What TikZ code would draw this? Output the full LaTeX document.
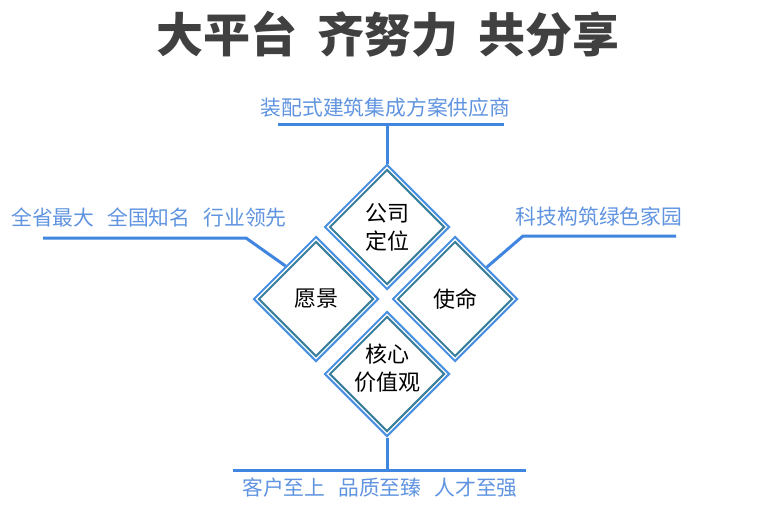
\documentclass[tikz,border=0pt]{standalone}
\usepackage{fontspec}
\newfontfamily\cjk{Noto Sans CJK SC}
\usetikzlibrary{shapes.geometric,calc,positioning}
\definecolor{lineblue}{RGB}{64,134,224}
\definecolor{textblue}{RGB}{96,148,224}
\definecolor{frameblue}{RGB}{74,144,226}
\definecolor{frameteal}{RGB}{58,127,156}
\definecolor{titlegray}{RGB}{64,64,64}

\begin{document}
\begin{tikzpicture}[x=1pt,y=-1pt,
    heading/.style = {font=\cjk\bfseries\fontsize{47}{47}\selectfont, text=titlegray, inner sep=0pt},
    slogan/.style = {font=\cjk\fontsize{20.8}{24}\selectfont, text=textblue, inner sep=0pt},
    quadtext/.style = {align=center, inner sep=0pt, font=\cjk\fontsize{22}{28}\selectfont},
    quad/.style = {quadtext, diamond, draw=frameblue, line width=2pt, minimum width=125pt,
      minimum height=125pt},
    quadin/.style = {diamond, draw=frameteal, line width=2pt, minimum width=115pt,
      minimum height=115pt, inner sep=0pt},
    link/.style = {draw=lineblue, line width=3pt}]
    \useasboundingbox (0,0) rectangle (769,506);
    \node [heading] (title) at (388,34) {大平台\hspace{20pt}齐努力\hspace{20pt}共分享};

    \node [quad] (dw) at (387,227) {公司\\定位};
    \node [quad] (yj) at (316,299) {愿景};
    \node [quad] (sm) at (455,299) {使命};
    \node [quad] (hx) at (387,374) {};
    \node [quadtext] (hx-t) at ([yshift=6pt]hx.center) {核心\\价值观};
    \foreach \q in {dw,yj,sm,hx}
        \node [quadin] (\q-in) at (\q) {};

    \node [slogan] (pos) at (385.5,108) {装配式建筑集成方案供应商};
    \coordinate (posl) at (278,124);
    \coordinate (posr) at (504,124);
    \draw [link] (posl) -- (posr);
    \draw [link] (dw.north) -- (dw.north |- posl);

    \node [slogan] (vis) at (149,217.5) {全省最大\hspace{0.62em}全国知名\hspace{0.62em}行业领先};
    \coordinate (visa) at (43,238);
    \coordinate (visb) at (246,238);
    \draw [link] (visa) -- (visb) -- ($(yj.north)!0.48!(yj.west)$);

    \node [slogan] (mis) at (599,216.5) {科技构筑绿色家园};
    \coordinate (misa) at (676,236);
    \coordinate (misb) at (523,236);
    \draw [link] (misa) -- (misb) -- ($(sm.north)!0.5!(sm.east)$);

    \coordinate (vall) at (233,470);
    \coordinate (valr) at (526,470);
    \draw [link] (vall) -- (valr);
    \draw [link] (hx.south) -- (hx.south |- vall);
    \node [slogan] (val) at (380,488) {客户至上\hspace{0.62em}品质至臻\hspace{0.62em}人才至强};
\end{tikzpicture}
\end{document}
